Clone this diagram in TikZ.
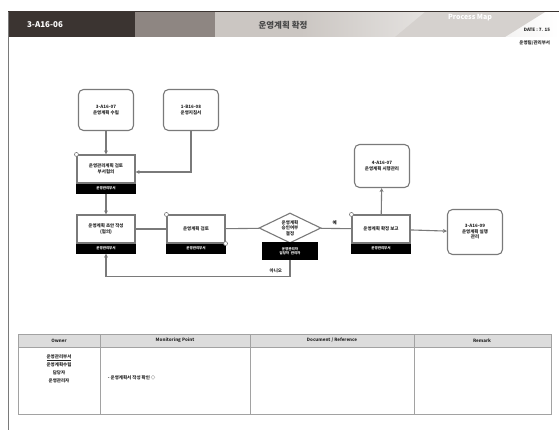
\documentclass[tikz,border=0pt]{standalone}
\usepackage{fontspec}
\setmainfont{Noto Sans CJK KR}
\usetikzlibrary{arrows.meta, positioning, shapes.geometric, calc}
\definecolor{cline}{HTML}{7A7A7A}
\definecolor{cdark}{HTML}{3B3431}
\definecolor{cmid}{HTML}{8E8682}
\definecolor{clight}{HTML}{CBC6C2}
\definecolor{chead}{HTML}{DCDCDC}
\definecolor{ctext}{HTML}{262626}
\tikzset{
  every picture/.style={font=\fontsize{4.5}{5.5}\selectfont\bfseries, line width=1.1pt, text=ctext},
  doc/.style={draw=cline, fill=white, rounded corners=5pt, align=center, minimum width=55pt, minimum height=41pt},
  proc/.style={draw=cline, fill=white, align=center, minimum width=58pt, minimum height=28pt, inner sep=1pt},
  bar/.style={draw=black, fill=black, text=white, minimum width=58pt, minimum height=9pt, inner sep=0pt, font=\fontsize{3.5}{4}\selectfont\bfseries},
  decide/.style={diamond, draw=cline, fill=white, align=center, minimum width=62pt, minimum height=30pt, inner sep=0pt, aspect=2},
  arrow/.style={-{Stealth[length=4pt, width=4pt]}, draw=cline},
  link/.style={draw=cline},
  dot/.style={circle, draw=cline, fill=white, inner sep=0pt, minimum size=4pt, line width=0.6pt},
  head/.style={font=\fontsize{4.5}{5}\selectfont\bfseries},
}

\begin{document}
\begin{tikzpicture}[x=1pt, y=-1pt]
  \useasboundingbox (0,0) rectangle (559,430);
  % header
  \fill[cdark] (8,12) rectangle (135,37);
  \fill[cmid] (135,12) rectangle (215,37);
  \fill[clight] (215,12) rectangle (300,37);
  \shade[left color=clight, right color=white] (300,12) rectangle (559,37);
  \fill[clight!80] (425,12) -- (545,12) -- (505,37) -- (395,37) -- cycle;
  \draw[cdark, line width=1pt] (8,12) -- (559,12);
  \draw[cline, line width=1pt] (8,12) -- (8,430);
  \node[text=white, font=\fontsize{8}{9}\selectfont\bfseries] (code) at (45,25) {3-A16-06};
  \node[text=ctext!85, font=\fontsize{8.5}{9}\selectfont\bfseries] (title) at (283,25) {운영계획 확정};
  \node[text=white, font=\fontsize{7}{8}\selectfont\bfseries\itshape] (pm) at (470,18) {Process Map};
  \node[font=\fontsize{4.5}{5}\selectfont\bfseries, anchor=east] (date) at (554,30) {DATE : 7. 15};
  \node[font=\fontsize{4.5}{5}\selectfont\bfseries, anchor=east] (dept) at (554,43) {운영팀/관리부서};

  % flow
  \node[doc] (a) at (106,110) {3-A16-07\\운영계획 수립};
  \node[doc] (b) at (191,110) {1-B16-08\\운영지침서};
  \node[proc] (p1) at (106,169) {운영관리계획 검토\\부서협의};
  \node[bar, below=0pt of p1] (p1b) {운영관리부서};
  \node[proc] (p2) at (106,229) {운영계획 초안 작성\\(협의)};
  \node[bar, below=0pt of p2] (p2b) {운영관리부서};
  \node[proc] (p3) at (196,229) {운영계획 검토};
  \node[bar, below=0pt of p3] (p3b) {운영관리부서};
  \node[decide] (d) at (290,228) {운영계획\\승인여부\\결정};
  \node[bar, minimum width=55pt, minimum height=16pt, align=center] (db) at (290,251) {운영관리자\\담당자 \ 관리자};
  \node[proc] (p4) at (381,229) {운영계획 확정 보고};
  \node[bar, below=0pt of p4] (p4b) {운영관리부서};
  \node[doc, minimum height=43pt] (c) at (382,166) {4-A16-07\\운영계획 시행관리};
  \node[doc, minimum height=45pt] (e) at (475,232) {3-A16-09\\운영계획 실행\\관리};

  \draw[arrow] (a) -- (p1);
  \draw[arrow] (b.south) |- ($(p1.east)+(0,3)$);
  \draw[arrow] (p1b) -- (p2);
  \draw[link] (p2) -- (p3);
  \draw[link] (p3) -- (d);
  \draw[link] (d) -- node[above, pos=0.45] (yes) {예} (p4);
  \draw[arrow] (p4) -- (c);
  \draw[arrow] (p4) -- (e);
  \draw[arrow] (db.south) -- ++(0,17) coordinate (fb) -| (p2b.south);
  \node[above left=0pt and 4pt of fb] (no) {아니오};

  \foreach \n in {p1.north west, p3.north west, p3.south east, p4.north west}
    \node[dot] at (\n) {};

  % table
  \fill[chead] (18,334) rectangle (551,347);
  \draw[cline!70, line width=1pt] (18,334) rectangle (551,414);
  \draw[cline!70, line width=0.7pt] (18,347) -- (551,347);
  \foreach \x in {100,250,414}
    \draw[cline!70, line width=1pt] (\x,334) -- (\x,414);
  \node[head] (h1) at (59,340.5) {Owner};
  \node[head] (h2) at (175,340.5) {Monitoring Point};
  \node[head] (h3) at (332,340.5) {Document / Reference};
  \node[head] (h4) at (482,340.5) {Remark};
  \node[align=center, font=\fontsize{4.5}{8}\selectfont\bfseries] (own) at (59,369) {\underline{운영관리부서}\\운영계획수립\\담당자\\운영관리자};
  \node[anchor=west] (mon) at (104,378) {- 운영계획서 작성 확인 ◇};
\end{tikzpicture}
\end{document}
